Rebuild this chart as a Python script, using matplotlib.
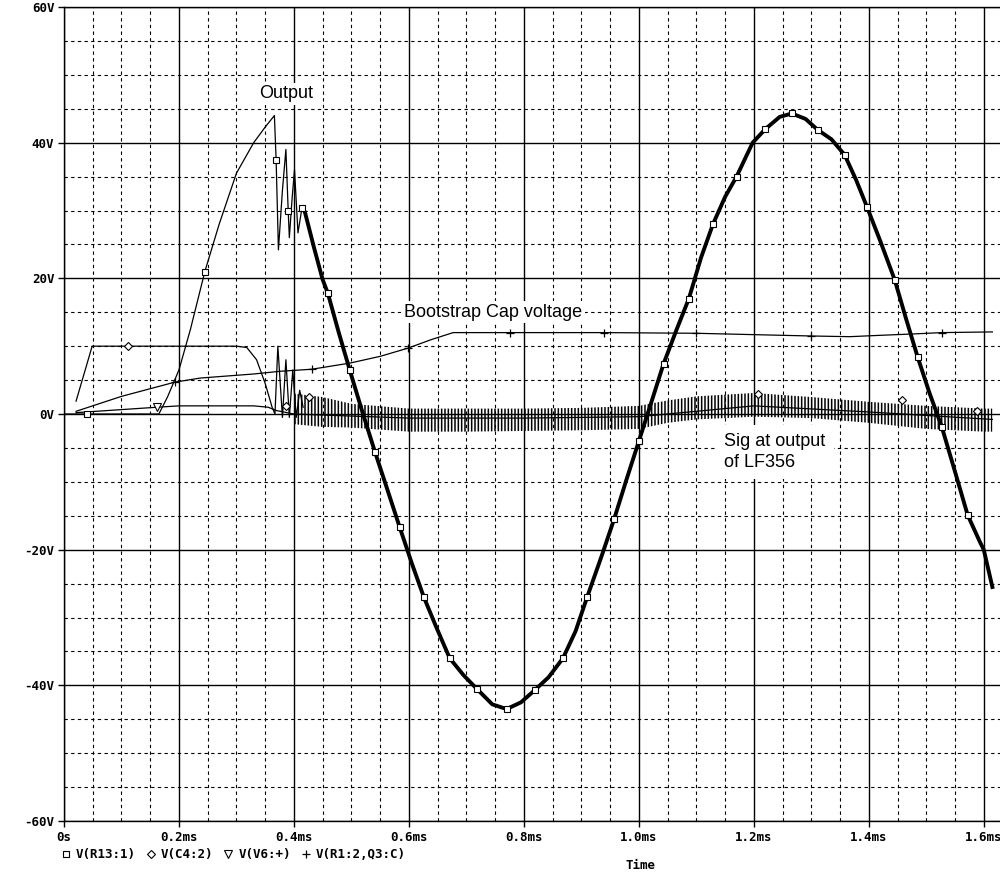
import numpy as np
import matplotlib.pyplot as plt
from matplotlib.lines import Line2D
from matplotlib.ticker import MultipleLocator, FuncFormatter

# time in ms, volts

# V(R13:1)  -> "Output"
out_t = [0.0, 0.04, 0.10, 0.165, 0.18, 0.20, 0.22, 0.245, 0.27, 0.30, 0.33, 0.35,
         0.366, 0.369, 0.373, 0.380, 0.386, 0.390, 0.392, 0.397, 0.401, 0.407, 0.414,
         0.419, 0.435, 0.45, 0.459, 0.478, 0.497, 0.518, 0.541, 0.562, 0.584, 0.605,
         0.626, 0.648, 0.671, 0.695, 0.718, 0.745, 0.770, 0.795, 0.819, 0.843, 0.868,
         0.89, 0.91, 0.935, 0.957, 0.978, 1.0, 1.022, 1.043, 1.065, 1.087, 1.108,
         1.129, 1.15, 1.17, 1.198, 1.22, 1.245, 1.266, 1.29, 1.311, 1.335, 1.358,
         1.378, 1.397, 1.42, 1.445, 1.465, 1.485, 1.506, 1.527, 1.55, 1.572, 1.593,
         1.60, 1.615]
out_v = [0, 0, 0, 0, 2.5, 6.5, 12.5, 21, 28, 35.5, 40, 42.3,
         44, 37.5, 24.2, 33, 39, 30, 26, 32, 36, 26.7, 30.4,
         29.8, 24.5, 19.8, 17.8, 12, 6.5, 0.6, -5.6, -11, -16.7, -22,
         -27, -31.5, -36, -38.5, -40.5, -42.8, -43.5, -42.5, -40.7, -38.8, -36,
         -32, -27, -21, -15.5, -9.8, -4, 1.8, 7.4, 12.3, 17, 23,
         28, 32, 35, 40, 42, 43.8, 44.3, 43.5, 41.9, 40.5, 38.2,
         34.5, 30.5, 25.5, 19.8, 14, 8.4, 3, -1.9, -8.5, -14.9, -18.8,
         -20, -25.5]
out_mark_t = [0.04, 0.245, 0.369, 0.390, 0.414, 0.459, 0.497, 0.541, 0.584, 0.626,
              0.671, 0.718, 0.770, 0.819, 0.868, 0.91, 0.957, 1.0, 1.043, 1.087,
              1.129, 1.17, 1.22, 1.266, 1.311, 1.358, 1.397, 1.445, 1.485, 1.527, 1.572]

# V(C4:2) start-up and ringing
c4_t = [0.021, 0.049, 0.111, 0.2, 0.30, 0.318, 0.335, 0.35, 0.362, 0.367, 0.372,
        0.380, 0.386, 0.392, 0.398, 0.404, 0.410, 0.416]
c4_v = [1.9, 10, 10, 10, 10, 9.8, 8, 4.5, 1, 0, 10, -0.5, 8, -0.5, 6.5, -0.5, 3.5, 1]
# V(C4:2) after start-up: fast oscillation, upper / lower envelope ("Sig at output of LF356")
band_t = [0.40, 0.45, 0.5, 0.6, 0.7, 0.8, 0.9, 1.0, 1.05, 1.1, 1.2, 1.3, 1.4, 1.5, 1.6, 1.615]
band_hi = [3.0, 2.5, 1.5, 0.8, 0.8, 0.8, 0.9, 1.2, 2.0, 2.6, 3.1, 2.5, 1.8, 1.2, 0.8, 0.8]
band_lo = [-1.5, -1.9, -2.0, -2.6, -2.6, -2.5, -2.4, -2.2, -1.3, -0.8, -0.4, -0.6, -1.3, -2.2, -2.6, -2.6]
c4_dot_t = [0.111, 0.386, 0.426, 1.207, 1.457, 1.588]
c4_dot_v = [10, 1.2, 2.5, 3.0, 2.0, 0.5]

# V(V6:+)
v6_t = [0.021, 0.162, 0.20, 0.33, 0.355, 0.37, 0.40, 0.6, 0.8, 1.0, 1.2, 1.4, 1.615]
v6_v = [0.2, 1.0, 1.2, 1.2, 1.0, 0.5, 0.0, -0.6, -0.6, -0.4, 1.2, 0.3, -0.8]

# V(R1:2,Q3:C) -> "Bootstrap Cap voltage"
bs_t = [0.021, 0.1, 0.193, 0.237, 0.33, 0.376, 0.431, 0.497, 0.55, 0.598, 0.64, 0.677,
        0.775, 0.94, 1.1, 1.2, 1.3, 1.367, 1.42, 1.477, 1.527, 1.615]
bs_v = [0.4, 2.6, 4.7, 5.3, 5.9, 6.3, 6.6, 7.5, 8.5, 9.7, 11.0, 12.0,
        12.0, 12.0, 11.9, 11.7, 11.5, 11.4, 11.6, 11.8, 12.0, 12.1]
bs_mark_t = [0.193, 0.431, 0.598, 0.775, 0.94, 1.1, 1.3, 1.527]

mono = dict(family='DejaVu Sans Mono', weight='bold', size=9)
plt.rcParams['hatch.linewidth'] = 1.1

fig = plt.figure(figsize=(10, 8.75), dpi=100)
ax = fig.add_axes([0.064, 0.0617, 0.937, 0.9303])
ax.set_xlim(0, 1.63)
ax.set_ylim(-60, 60)

ax.xaxis.set_major_locator(MultipleLocator(0.2))
ax.xaxis.set_minor_locator(MultipleLocator(0.05))
ax.yaxis.set_major_locator(MultipleLocator(20))
ax.yaxis.set_minor_locator(MultipleLocator(5))
ax.grid(which='major', color='black', lw=1.0, ls='-')
ax.grid(which='minor', color='black', lw=0.8, ls=(0, (3, 3)))
ax.set_axisbelow(True)
ax.tick_params(which='minor', length=0)
ax.tick_params(which='major', direction='out', length=4, width=1, color='black', pad=3)
ax.xaxis.set_major_formatter(FuncFormatter(lambda v, p: '0s' if abs(v) < 1e-9 else f'{v:.1f}ms'))
ax.yaxis.set_major_formatter(FuncFormatter(lambda v, p: f'{int(round(v))}V'))
for lab in ax.get_xticklabels() + ax.get_yticklabels():
    lab.set_fontfamily(mono['family'])
    lab.set_fontweight('bold')
    lab.set_fontsize(9)
ax.spines['right'].set_visible(False)
for s in ['left', 'bottom', 'top']:
    ax.spines[s].set_linewidth(1.0)

# fast oscillation of the LF356 signal drawn as a hatched band
ax.fill_between(band_t, band_lo, band_hi, facecolor='none', edgecolor='black',
                hatch='|||||', linewidth=0, zorder=3)
ax.plot(c4_t, c4_v, color='black', lw=0.9, zorder=4)
ax.plot(c4_dot_t, c4_dot_v, ls='none', marker='D', ms=4, mfc='white', mec='black', mew=0.8, zorder=5)

ax.plot(v6_t, v6_v, color='black', lw=0.9, marker='v', markevery=[1], ms=6,
        mfc='white', mec='black', mew=0.8, zorder=4)

bs_idx = [bs_t.index(t) for t in bs_mark_t]
ax.plot(bs_t, bs_v, color='black', lw=0.9, marker='+', markevery=bs_idx, ms=6,
        mew=0.9, zorder=4)

out_idx = [out_t.index(t) for t in out_mark_t]
k = out_t.index(0.414)
ax.plot(out_t[:k + 1], out_v[:k + 1], color='black', lw=0.9, zorder=4)
ax.plot(out_t[k:], out_v[k:], color='black', lw=2.8, zorder=4)
ax.plot(out_t, out_v, ls='none', marker='s', markevery=out_idx, ms=5,
        mfc='white', mec='black', mew=0.8, zorder=5)

# labels
lab_font = dict(family='Liberation Sans', size=13)
box = dict(facecolor='white', edgecolor='none', pad=2)
ax.text(0.339, 47.2, 'Output', ha='left', va='center', bbox=box, zorder=6, **lab_font)
ax.text(0.591, 15.0, 'Bootstrap Cap voltage', ha='left', va='center', bbox=box, zorder=6, **lab_font)
ax.text(1.149, -5.6, 'Sig at output\nof LF356', ha='left', va='center', zorder=6,
        bbox=dict(facecolor='white', edgecolor='none', boxstyle='square,pad=0.45'),
        linespacing=1.25, **lab_font)

ax.set_xlabel('Time', fontdict=mono)
ax.xaxis.set_label_coords(0.615, -0.047)

handles = [
    Line2D([], [], ls='none', marker='s', ms=5, mfc='white', mec='black', mew=0.8),
    Line2D([], [], ls='none', marker='D', ms=4, mfc='white', mec='black', mew=0.8),
    Line2D([], [], ls='none', marker='v', ms=6, mfc='white', mec='black', mew=0.8),
    Line2D([], [], ls='none', marker='+', ms=6, mec='black', mew=0.9),
]
fig.legend(handles, ['V(R13:1)', 'V(C4:2)', 'V(V6:+)', 'V(R1:2,Q3:C)'],
           loc='upper left', bbox_to_anchor=(0.062, 0.031), ncol=4, frameon=False,
           handlelength=0.6, handletextpad=0.5, columnspacing=0.9, borderpad=0,
           borderaxespad=0, prop=mono)

fig.savefig('out.png', dpi=100)
